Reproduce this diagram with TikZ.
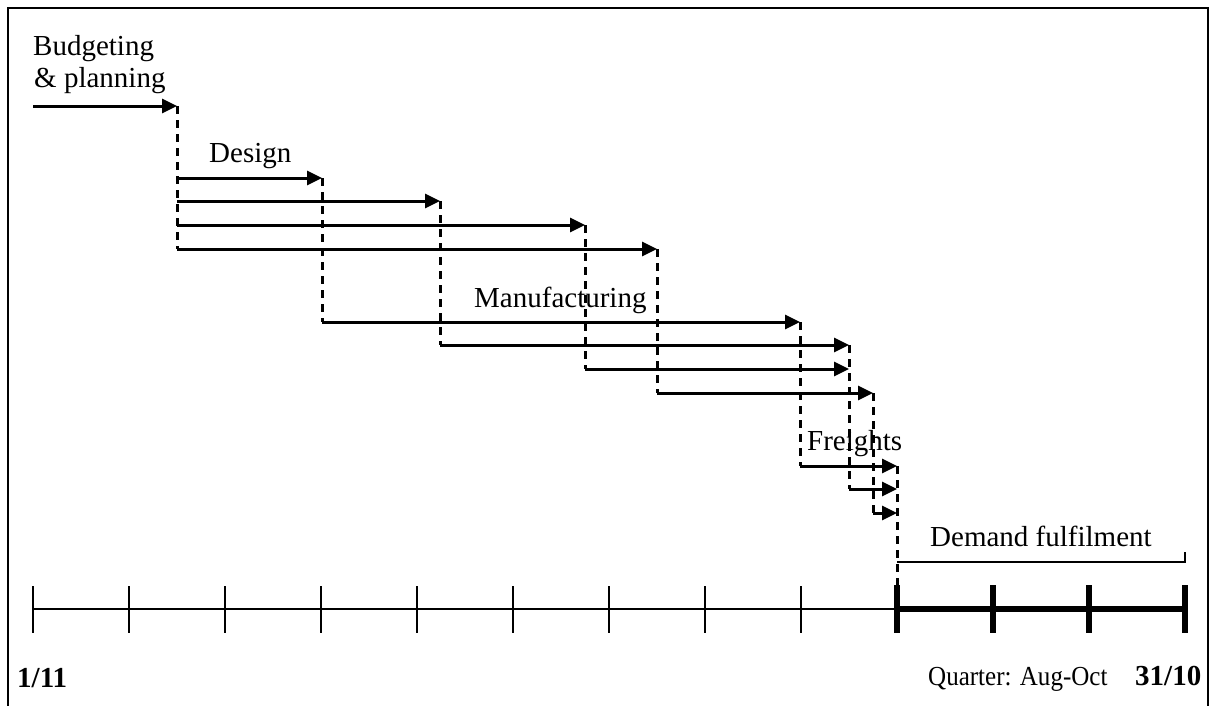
\documentclass[tikz,border=0pt]{standalone}
\usepackage{fontspec}
\usepackage{graphicx}
\setmainfont{Liberation Serif}
\usetikzlibrary{arrows.meta}
\tikzset{
  flow/.style={line width=3pt, -{Triangle[length=15pt,width=14pt]}},
  link/.style={line width=2.6pt},
  handover/.style={line width=3pt, dash pattern=on 8pt off 6pt},
  label/.style={anchor=base west, inner sep=0pt, font=\fontsize{29}{33}\selectfont},
  boldlabel/.style={label, font=\fontsize{29}{33}\selectfont\bfseries},
  tick/.style={line width=2.6pt},
  thicktick/.style={line width=6.5pt},
}
\begin{document}
\begin{tikzpicture}[x=1pt,y=-1pt]
\useasboundingbox (0,0) rectangle (1211,705);
% frame, open at the bottom
\draw[line width=2.2pt] (8,706) -- (8,8) -- (1208,8) -- (1208,706);

% phase labels
\node[label] (budget) at (33,55) {Budgeting};
\node[label] (budget2) at (34,87) {\& planning};
\node[label] (design) at (209,162) {Design};
\node[label] (manuf) at (474,307) {Manufacturing};
\node[label] (freight) at (807,450) {Freights};
\node[label] (demand) at (930,546) {Demand fulfilment};
\node[boldlabel] (start) at (17,687) {1/11};
\node[label] (quarter) at (928,685)
  {\scalebox{0.91}[1]{\fontsize{27.5}{31}\selectfont Quarter: Aug-Oct}};
\node[boldlabel] (stop) at (1135,685) {31/10};

% hand-over points
\coordinate (b0) at (33,106);   \coordinate (b1) at (177,106);
\coordinate (s1) at (177,178);  \coordinate (s2) at (177,201);
\coordinate (s3) at (177,225);  \coordinate (s4) at (177,249);
\coordinate (e1) at (322,178);  \coordinate (e2) at (440,201);
\coordinate (e3) at (585,225);  \coordinate (e4) at (657,249);
\coordinate (m1) at (322,322);  \coordinate (m2) at (440,345);
\coordinate (m3) at (585,369);  \coordinate (m4) at (657,393);
\coordinate (n1) at (800,322);  \coordinate (n2) at (849,345);
\coordinate (n3) at (849,369);  \coordinate (n4) at (873,393);
\coordinate (f1) at (800,466);  \coordinate (f2) at (849,489);
\coordinate (f3) at (873,513);
\coordinate (g1) at (897,466);  \coordinate (g2) at (897,489);
\coordinate (g3) at (897,513);  \coordinate (g4) at (897,586);

% dashed hand-over lines
\draw[handover] (b1) -- (s4);
\draw[handover] (e1) -- (m1);
\draw[handover] (e2) -- (m2);
\draw[handover] (e3) -- (m3);
\draw[handover] (e4) -- (m4);
\draw[handover] (n1) -- (f1);
\draw[handover] (n2) -- (f2);
\draw[handover] (n4) -- (f3);
\draw[handover] (g1) -- (g4);

% budgeting
\draw[flow] (b0) -- (b1);
% design
\draw[flow] (s1) -- (e1);
\draw[flow] (s2) -- (e2);
\draw[flow] (s3) -- (e3);
\draw[flow] (s4) -- (e4);
% manufacturing
\draw[flow] (m1) -- (n1);
\draw[flow] (m2) -- (n2);
\draw[flow] (m3) -- (n3);
\draw[flow] (m4) -- (n4);
% freights
\draw[flow] (f1) -- (g1);
\draw[flow] (f2) -- (g2);
\draw[flow] (f3) -- (g3);

% time line
\coordinate (t0) at (33,609);
\coordinate (tq) at (897,609);
\coordinate (t1) at (1185,609);
\draw[tick] (t0) -- (tq);
\draw[thicktick] (tq) -- (t1);
\foreach \i in {0,...,8}
  \draw[tick] (33+96*\i,586) -- (33+96*\i,633);
\foreach \i in {9,...,12}
  \draw[thicktick] (33+96*\i,585) -- (33+96*\i,633);

% demand fulfilment bracket
\coordinate (q0) at (897,562);
\coordinate (q1) at (1185,562);
\draw[link] (q0) -- (q1) -- ([yshift=10pt]q1);
\end{tikzpicture}
\end{document}
